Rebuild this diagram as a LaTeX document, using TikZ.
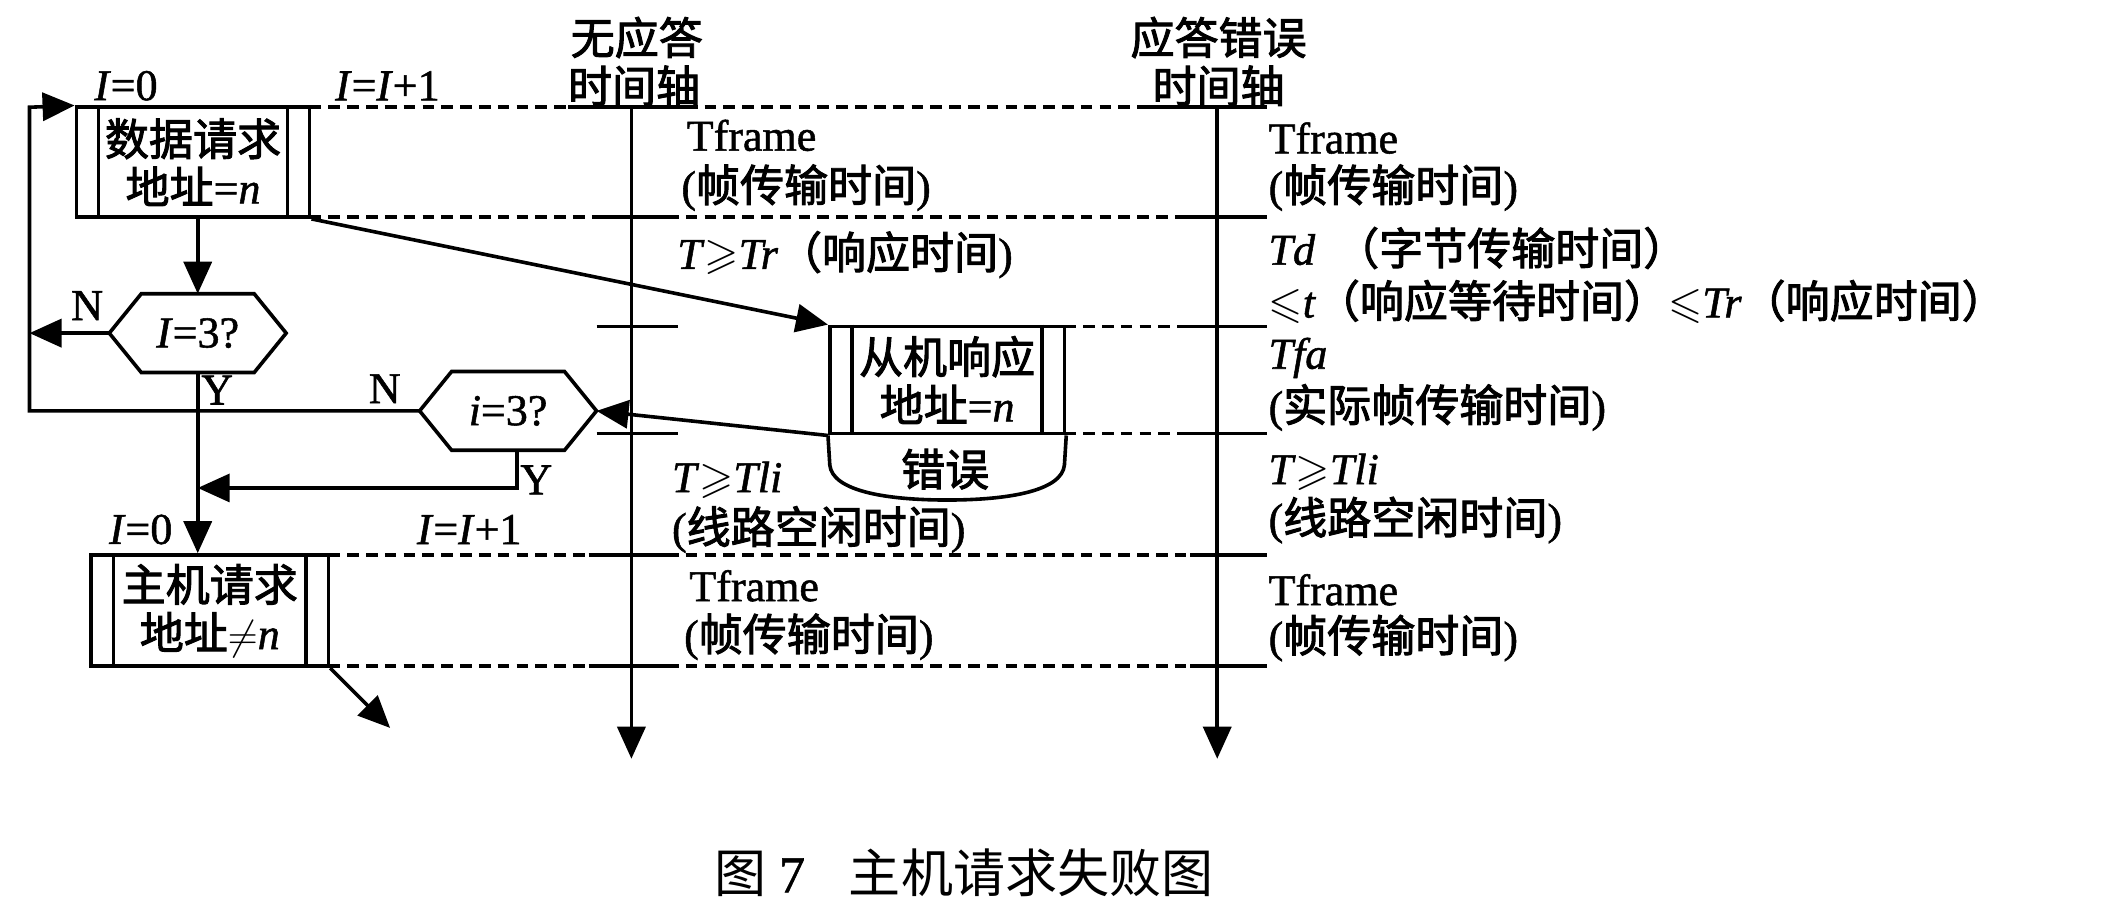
\documentclass[tikz,border=0pt]{standalone}
\usepackage{amssymb}
\usepackage{fontspec}
\setmainfont{Liberation Serif}[FakeBold=1.2]
\newfontfamily\cjk[FakeBold=2.2]{Noto Sans CJK SC}
\newfontfamily\cjkcap{Noto Sans CJK SC}
\usetikzlibrary{arrows.meta,positioning,calc}

\newcommand{\zh}[1]{{\cjk #1}}
\newcommand{\tgeq}{$\geqslant$}
\newcommand{\tleq}{$\leqslant$}

\tikzset{
  box/.style={draw, line width=1.8pt, inner sep=0pt, align=center},
  hexq/.style={minimum width=88pt, minimum height=39pt, inner sep=0pt},
  arr/.style={-{Triangle[length=16pt,width=14pt]}, line width=1.8pt},
  tline/.style={line width=1.8pt},
  dline/.style={line width=1.8pt, dash pattern=on 5.8pt off 3.6pt},
  lbl/.style={anchor=west, inner sep=0pt},
  flag/.style={inner sep=0pt}
}

\begin{document}
\begin{tikzpicture}[x=0.67pt, y=-0.67pt, font=\fontsize{22pt}{24pt}\selectfont]
\useasboundingbox (0,0) rectangle (1568,689);
% axis headers
\node (hA1) at (475,28) {\zh{无应答}};
\node (hA2) at (473,64) {\zh{时间轴}};
\node (hB1) at (909,28) {\zh{应答错误}};
\node (hB2) at (909,64) {\zh{时间轴}};
% time axes
\coordinate (aTop) at (471,80); \coordinate (aEnd) at (471,566);
\coordinate (bTop) at (908,80); \coordinate (bEnd) at (908,566);
\draw[arr] (aTop) -- (aEnd);
\draw[arr] (bTop) -- (bEnd);
% frame boundaries
\foreach \y/\xs in {80/231, 162/231, 243.5/794, 323.5/794, 414/245, 497/245}
  \draw[dline] (\xs,\y) -- (945,\y);
\foreach \y/\a/\b/\c in {80/424/521/857, 162/446/500/880, 243.5/445/506/878,
    323.5/445/506/878, 414/439/506/888, 497/439/506/888}{
  \draw[tline] (\a,\y) -- (\b,\y);
  \draw[tline] (\c,\y) -- (945,\y);
}
% frames
\node[box, minimum width=116.6pt, minimum height=54.9pt] (req) at (144,121)
  {\zh{数据请求}\\\zh{地址}=\textit{n}};
\node[box, minimum width=117.3pt, minimum height=53.6pt] (slave) at (706.5,283.5)
  {\zh{从机响应}\\\zh{地址}=\textit{n}};
\node[box, minimum width=118.6pt, minimum height=55.6pt] (host) at (156.5,455.5)
  {\zh{主机请求}\\\zh{地址}$\neq$\textit{n}};
\foreach \bx in {req,slave,host}{
  \draw[tline] ([xshift=12pt]\bx.north west) -- ([xshift=12pt]\bx.south west);
  \draw[tline] ([xshift=-12pt]\bx.north east) -- ([xshift=-12pt]\bx.south east);
}
\node (err) at (705,350) {\zh{错误}};
\draw[tline] (slave.south west) -- (619,347) .. controls (621,366) and (660,373) .. (706.5,373)
  .. controls (753,373) and (792,366) .. (794,347) -- (slave.south east);
% decisions
\node[hexq] (q1) at (147.5,248.5) {\textit{I}=3?};
\node[hexq] (q2) at (379,306.5) {\textit{i}=3?};
\foreach \h in {q1,q2}
  \draw[tline] (\h.west) -- ([xshift=16pt]\h.north west) -- ([xshift=-16pt]\h.north east)
    -- (\h.east) -- ([xshift=-16pt]\h.south east) -- ([xshift=16pt]\h.south west) -- cycle;
% flow
\coordinate (loopTop) at (22,80);
\coordinate (merge) at (147.5,364);
\coordinate (exit) at (291,543);
\draw[arr] (q1.north |- req.south) -- (q1.north);
\draw[arr] (q1.west) -- (q1.west -| loopTop);
\draw[arr] (q2.west) -| (loopTop) -- (req.north west);
\draw[arr] (q1.south) -- (q1.south |- host.north);
\draw[arr] ([xshift=4.5pt]q2.south) |- (merge);
\draw[arr] (req.south east) -- (slave.north west);
\draw[arr] (slave.south west) -- (q2.east);
\draw[arr] (host.south east) -- (exit);
% counters and branches
\node[flag] (i0a) at (94,64) {\textit{I}=0};
\node[flag] (inca) at (289,64) {\textit{I}=\textit{I}+1};
\node[flag] (i0b) at (105,395) {\textit{I}=0};
\node[flag] (incb) at (350,395) {\textit{I}=\textit{I}+1};
\node[flag] (n1) at (65,228) {N};
\node[flag] (y1) at (162,291) {Y};
\node[flag] (n2) at (287,290) {N};
\node[flag] (y2) at (400,358) {Y};
% no-answer axis texts
\foreach \x/\y/\t [count=\i] in {512/101/{Tframe}, 508/140/{(\zh{帧传输时间})},
    505/190/{\textit{T}\tgeq\textit{Tr}\zh{（响应时间})},
    501/358/{\textit{T}\tgeq\textit{Tli}}, 501/395/{(\zh{线路空闲时间})},
    514/437/{Tframe}, 510/475/{(\zh{帧传输时间})}}
  \node[lbl] (m\i) at (\x,\y) {\t};
% error axis texts
\foreach \y/\t [count=\i] in {103/{Tframe}, 140/{(\zh{帧传输时间})},
    185/{\textit{Td}\hspace{10pt}\zh{（字节传输时间）}},
    225/{\tleq\textit{t}\zh{（响应等待时间）}\tleq\textit{Tr}\zh{（响应时间）}},
    267/{\textit{Tfa}}, 304/{(\zh{实际帧传输时间})},
    352/{\textit{T}\tgeq\textit{Tli}}, 388/{(\zh{线路空闲时间})},
    440/{Tframe}, 476/{(\zh{帧传输时间})}}
  \node[lbl] (r\i) at (946,\y) {\t};
% caption
\node[lbl, font=\fontsize{26pt}{28pt}\selectfont] (cap) at (533,651)
  {\cjkcap 图\hspace{6pt}{\normalfont 7}\hspace{22pt}主机请求失败图};
\end{tikzpicture}
\end{document}
